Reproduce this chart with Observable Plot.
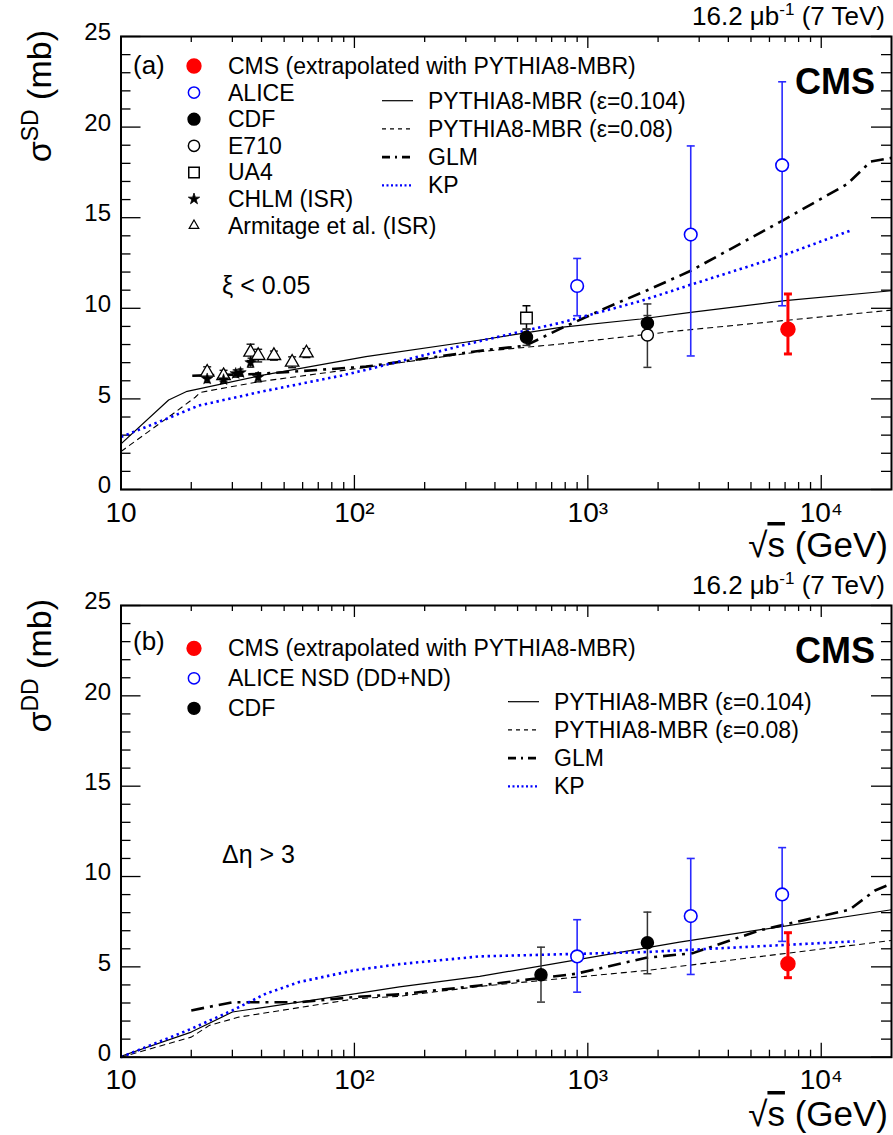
<!DOCTYPE html>
<html><head><meta charset="utf-8">
<script src="https://cdn.jsdelivr.net/npm/d3@7"></script>
<script src="https://cdn.jsdelivr.net/npm/@observablehq/plot@0.6"></script>
<style>
body{margin:0;background:#fff;}
#chart{width:893px;}
#chart svg{display:block;}
</style></head><body><div id="chart"></div>
<script>
// ---------------- DATA ----------------
// axes
const xMajor = [10, 100, 1000, 10000];
const xMinor = [20,30,40,50,60,70,80,90,200,300,400,500,600,700,800,900,2000,3000,4000,5000,6000,7000,8000,9000];
const xTickLabels = ["10", "10²", "10³", "10⁴"];
const yMajor = [0, 5, 10, 15, 20, 25];
const yMinor = [1,2,3,4,6,7,8,9,11,12,13,14,16,17,18,19,21,22,23,24];

// ---- panel (a): single diffraction, xi < 0.05 ----
const mbr104SD_s = [10, 16, 19.2, 40, 112, 347, 764, 1683, 2760, 7000, 20000];
const mbr104SD_v = [2.52, 4.94, 5.42, 6.3, 7.33, 8.25, 8.95, 9.41, 9.77, 10.42, 10.97];
const mbr08SD_s = [10, 16, 20.8, 21.9, 39, 112, 347, 764, 2500, 20000];
const mbr08SD_v = [2.1, 4.0, 5.09, 5.36, 5.95, 6.74, 7.61, 8.03, 8.77, 9.9];
const glmSD_s = [20.2, 39, 112, 347, 541, 764, 1210, 1800, 2760, 6800, 12900, 16300, 20000];
const glmSD_v = [6.28, 6.38, 6.78, 7.66, 7.94, 8.88, 10.05, 11.0, 12.07, 14.83, 16.85, 18.1, 18.3];
const kpSD_s = [10, 16.3, 21.5, 40, 87.5, 112, 347, 541, 764, 1683, 2760, 6800, 13600];
const kpSD_v = [2.9, 3.99, 4.63, 5.4, 6.28, 6.6, 8.2, 8.77, 9.2, 10.4, 11.3, 12.9, 14.33];

const cmsSD_s = [7200], cmsSD_v = [8.84], cmsSD_lo = [7.48], cmsSD_hi = [10.79];
const aliceSD_s = [900, 2760, 6800], aliceSD_v = [11.23, 14.07, 17.9];
const aliceSD_lo = [9.59, 7.37, 10.14], aliceSD_hi = [12.75, 18.96, 22.5];
const cdfSD_s = [546, 1800], cdfSD_v = [8.4, 9.17], cdfSD_lo = [7.95, 8.67], cdfSD_hi = [8.85, 10.24];
const e710SD_s = [1800], e710SD_v = [8.53], e710SD_lo = [6.74], e710SD_hi = [9.6];
const ua4SD_s = [546], ua4SD_v = [9.46], ua4SD_lo = [8.85], ua4SD_hi = [10.14];
const chlmSD_s = [23.4, 27.5, 31, 32.5, 35.9, 38.7];
const chlmSD_v = [6.1, 6.06, 6.4, 6.45, 7.0, 6.19];
const chlmSD_e = [0.2, 0.2, 0.2, 0.2, 0.25, 0.25];
const armSD_s = [23.4, 27.5, 35.9, 38.7, 45.2, 54.1, 62.3];
const armSD_v = [6.47, 6.28, 7.57, 7.39, 7.39, 7.02, 7.53];
const armSD_e = [0.3, 0.3, 0.45, 0.35, 0.25, 0.3, 0.25];

// ---- panel (b): double diffraction, Delta eta > 3 ----
const mbr104DD_s = [10, 20, 30, 101.6, 156, 344, 2470, 20000];
const mbr104DD_v = [0.05, 1.39, 2.5, 3.52, 3.89, 4.47, 6.37, 8.16];
const mbr08DD_s = [10, 20, 23.9, 32, 101.6, 156, 344, 1780, 20000];
const mbr08DD_v = [0, 1.11, 1.76, 2.22, 3.24, 3.37, 3.92, 4.8, 6.46];
const glmDD_s = [20, 30, 58, 100, 156, 344, 890, 1780, 2820, 5450, 13200, 17000, 20000];
const glmDD_v = [2.59, 3.04, 3.04, 3.33, 3.48, 3.97, 4.62, 5.5, 5.76, 7.02, 8.16, 9.23, 9.6];
const kpDD_s = [10, 20, 30, 41.8, 58, 100, 156, 344, 1780, 13900];
const kpDD_v = [0, 1.57, 2.59, 3.52, 4.16, 4.81, 5.15, 5.58, 5.82, 6.41];

const cmsDD_s = [7200], cmsDD_v = [5.17], cmsDD_lo = [4.4], cmsDD_hi = [6.89];
const aliceDD_s = [900, 2760, 6800], aliceDD_v = [5.58, 7.81, 9.01];
const aliceDD_lo = [3.6, 4.58, 6.41], aliceDD_hi = [7.61, 11.0, 11.6];
const cdfDD_s = [630, 1800], cdfDD_v = [4.56, 6.34], cdfDD_lo = [3.05, 4.62], cdfDD_hi = [6.09, 8.03];

// ---------------- helpers ----------------
const FONT = "'Liberation Sans', Arial, Helvetica, sans-serif";
const BLUE = "#0000ff";
const capSym = {draw(ctx, size) { const r = Math.sqrt(size / Math.PI); ctx.moveTo(-r, 0); ctx.lineTo(r, 0); }};
const curve = (s, v) => s.map((x, i) => ({s: x, v: v[i]}));
const pts = (s, v, lo, hi) => s.map((x, i) => ({s: x, v: v[i], lo: lo[i], hi: hi[i]}));
const ptsE = (s, v, e) => s.map((x, i) => ({s: x, v: v[i], lo: v[i] - e[i], hi: v[i] + e[i]}));

const STYLES = {
  solid: {stroke: "black", strokeWidth: 1.2},
  dashed: {stroke: "black", strokeWidth: 1.1, strokeDasharray: "6,4", strokeLinecap: "butt"},
  glm: {stroke: "black", strokeWidth: 2.6, strokeDasharray: "13,6,3,6", strokeLinecap: "butt"},
  kp: {stroke: BLUE, strokeWidth: 2.6, strokeDasharray: "2.4,3.6", strokeLinecap: "butt"}
};

function errMarks(data, color, sw, capR) {
  return [
    Plot.ruleX(data, {x: "s", y1: "lo", y2: "hi", stroke: color, strokeWidth: sw}),
    Plot.dot(data, {x: "s", y: "lo", symbol: capSym, r: capR, stroke: color, strokeWidth: sw, fill: "none"}),
    Plot.dot(data, {x: "s", y: "hi", symbol: capSym, r: capR, stroke: color, strokeWidth: sw, fill: "none"})
  ];
}

function panel(cfg) {
  const W = 893, H = cfg.height, mL = 120.5, mR = 2, mT = 36, mB = cfg.mB;
  const fw = W - mL - mR, fh = H - mT - mB;
  const marks = [
    Plot.tickY(yMajor, {y: d => d, insetRight: fw - 20, stroke: "black", strokeWidth: 1.3}),
    Plot.tickY(yMajor, {y: d => d, insetLeft: fw - 20, stroke: "black", strokeWidth: 1.3}),
    Plot.tickY(yMinor, {y: d => d, insetRight: fw - 10, stroke: "black", strokeWidth: 1.3}),
    Plot.tickY(yMinor, {y: d => d, insetLeft: fw - 10, stroke: "black", strokeWidth: 1.3}),
    Plot.tickX(xMajor, {x: d => d, insetTop: fh - 14, stroke: "black", strokeWidth: 1.3}),
    Plot.tickX(xMajor, {x: d => d, insetBottom: fh - 12, stroke: "black", strokeWidth: 1.3}),
    Plot.tickX(xMinor, {x: d => d, insetTop: fh - 7, stroke: "black", strokeWidth: 1.3}),
    Plot.tickX(xMinor, {x: d => d, insetBottom: fh - 6, stroke: "black", strokeWidth: 1.3}),
    Plot.text(yMajor, {y: d => d, frameAnchor: "left", dx: -10, dy: -4, textAnchor: "end", fontSize: 24, text: d => String(d), fill: "black"}),
    Plot.text(xMajor, {x: d => d, frameAnchor: "bottom", dy: 32, fontSize: 28, text: (d, i) => xTickLabels[i], fill: "black"}),
    ...cfg.curves.map(c => Plot.line(c.data, {x: "s", y: "v", ...STYLES[c.style]})),
    ...cfg.points,
    Plot.frame({stroke: "black", strokeWidth: 2})
  ];
  const svg = Plot.plot({
    width: W, height: H, marginLeft: mL, marginRight: mR, marginTop: mT, marginBottom: mB,
    x: {type: "log", domain: [10, 20000], axis: null},
    y: {domain: [0, 25], axis: null},
    style: {fontFamily: FONT, background: "white", overflow: "visible", color: "black"},
    marks
  });
  const g = d3.select(svg).append("g").attr("font-family", FONT).attr("fill", "black").attr("text-anchor", "start");
  const lum = g.append("text").attr("x", 885).attr("y", 25).attr("text-anchor", "end").attr("font-size", 26);
  lum.append("tspan").text("16.2 μb");
  lum.append("tspan").attr("font-size", 17).attr("dy", -10).text("-1");
  lum.append("tspan").attr("dy", 10).text(" (7 TeV)");
  g.append("text").attr("x", 875).attr("y", 94).attr("text-anchor", "end").attr("font-size", 36)
    .attr("font-weight", "bold").text("CMS");
  g.append("text").attr("x", 133).attr("y", cfg.tagY).attr("font-size", 26).text(cfg.tag);
  const yl = g.append("text").attr("transform", "translate(51,30) rotate(-90)").attr("text-anchor", "end").attr("font-size", 34);
  yl.append("tspan").text("σ");
  yl.append("tspan").attr("font-size", 23).attr("dy", -13).text(cfg.ysup);
  yl.append("tspan").attr("dy", 13).text(" (mb)");
  const xl = g.append("text").attr("x", 888).attr("y", 557).attr("text-anchor", "end").attr("font-size", 35);
  xl.append("tspan").text("√");
  xl.append("tspan").attr("text-decoration", "overline").text("s");
  xl.append("tspan").text(" (GeV)");
  g.append("text").attr("x", 222).attr("y", 294).attr("font-size", 25).text(cfg.cut);
  cfg.legendL.forEach((e, i) => {
    const y = cfg.legLY + i * cfg.legLdy;
    const sym = d3.symbol().type(e.sym).size(e.size);
    g.append("path").attr("d", sym()).attr("transform", `translate(194,${y})`)
      .attr("fill", e.fill).attr("stroke", e.stroke).attr("stroke-width", e.sw || 1.5);
    g.append("text").attr("x", 228).attr("y", y).attr("dy", "0.35em").attr("font-size", 23).text(e.label);
  });
  cfg.legendR.forEach((e, i) => {
    const y = cfg.legRY + i * 28.2;
    const st = e.leg;
    g.append("line").attr("x1", cfg.legRX).attr("x2", cfg.legRX + 31).attr("y1", y).attr("y2", y)
      .attr("stroke", st.stroke).attr("stroke-width", st.sw).attr("stroke-dasharray", st.dash || null);
    g.append("text").attr("x", cfg.legRX + 46).attr("y", y).attr("dy", "0.35em").attr("font-size", 23).text(e.label);
  });
  return svg;
}

const legendLines = [
  {label: "PYTHIA8-MBR (ε=0.104)", leg: {stroke: "black", sw: 1.2}},
  {label: "PYTHIA8-MBR (ε=0.08)", leg: {stroke: "black", sw: 1.1, dash: "4,4"}},
  {label: "GLM", leg: {stroke: "black", sw: 2.6, dash: "8,5,2,5"}},
  {label: "KP", leg: {stroke: BLUE, sw: 2.2, dash: "2,2.5"}}
];

const panelA = panel({
  height: 569, mB: 80, tag: "(a)", tagY: 74, ysup: "SD", cut: "ξ < 0.05",
  curves: [
    {data: curve(mbr104SD_s, mbr104SD_v), style: "solid"},
    {data: curve(mbr08SD_s, mbr08SD_v), style: "dashed"},
    {data: curve(glmSD_s, glmSD_v), style: "glm"},
    {data: curve(kpSD_s, kpSD_v), style: "kp"}
  ],
  points: [
    ...errMarks(ptsE(armSD_s, armSD_v, armSD_e), "black", 1.3, 4),
    ...errMarks(ptsE(chlmSD_s, chlmSD_v, chlmSD_e), "black", 1.3, 3),
    Plot.dot(ptsE(armSD_s, armSD_v, armSD_e), {x: "s", y: "v", symbol: "triangle", r: 5, stroke: "black", fill: "white", strokeWidth: 1.3}),
    Plot.dot(ptsE(chlmSD_s, chlmSD_v, chlmSD_e), {x: "s", y: "v", symbol: "star", r: 3.6, fill: "black", stroke: "black", strokeWidth: 0.6}),
    ...errMarks(pts(ua4SD_s, ua4SD_v, ua4SD_lo, ua4SD_hi), "black", 1.5, 4),
    ...errMarks(pts(e710SD_s, e710SD_v, e710SD_lo, e710SD_hi), "#333", 1.5, 4),
    ...errMarks(pts(cdfSD_s, cdfSD_v, cdfSD_lo, cdfSD_hi), "#333", 1.5, 4),
    ...errMarks(pts(aliceSD_s, aliceSD_v, aliceSD_lo, aliceSD_hi), "#2a2aff", 1.6, 4),
    Plot.dot(pts(ua4SD_s, ua4SD_v, ua4SD_lo, ua4SD_hi), {x: "s", y: "v", symbol: "square", r: 6.5, stroke: "black", fill: "white", strokeWidth: 1.4}),
    Plot.dot(pts(e710SD_s, e710SD_v, e710SD_lo, e710SD_hi), {x: "s", y: "v", symbol: "circle", r: 6, stroke: "black", fill: "white", strokeWidth: 1.4}),
    Plot.dot(pts(cdfSD_s, cdfSD_v, cdfSD_lo, cdfSD_hi), {x: "s", y: "v", symbol: "circle", r: 6, fill: "black", stroke: "black"}),
    Plot.dot(pts(aliceSD_s, aliceSD_v, aliceSD_lo, aliceSD_hi), {x: "s", y: "v", symbol: "circle", r: 6.3, stroke: BLUE, fill: "white", strokeWidth: 1.6}),
    ...errMarks(pts(cmsSD_s, cmsSD_v, cmsSD_lo, cmsSD_hi), "red", 3, 4),
    Plot.dot(pts(cmsSD_s, cmsSD_v, cmsSD_lo, cmsSD_hi), {x: "s", y: "v", symbol: "circle", r: 7, fill: "red", stroke: "red"})
  ],
  legLY: 66, legLdy: 26.6,
  legendL: [
    {label: "CMS (extrapolated with PYTHIA8-MBR)", sym: d3.symbolCircle, size: 150, fill: "red", stroke: "red"},
    {label: "ALICE", sym: d3.symbolCircle, size: 100, fill: "none", stroke: BLUE},
    {label: "CDF", sym: d3.symbolCircle, size: 110, fill: "black", stroke: "black"},
    {label: "E710", sym: d3.symbolCircle, size: 100, fill: "none", stroke: "black"},
    {label: "UA4", sym: d3.symbolSquare, size: 110, fill: "none", stroke: "black"},
    {label: "CHLM (ISR)", sym: d3.symbolStar, size: 40, fill: "black", stroke: "black", sw: 0.8},
    {label: "Armitage et al. (ISR)", sym: d3.symbolTriangle, size: 40, fill: "none", stroke: "black", sw: 1.2}
  ],
  legRX: 382, legRY: 100.7, legendR: legendLines
});

const panelB = panel({
  height: 566, mB: 78.3, tag: "(b)", tagY: 81, ysup: "DD", cut: "Δη > 3",
  curves: [
    {data: curve(mbr104DD_s, mbr104DD_v), style: "solid"},
    {data: curve(mbr08DD_s, mbr08DD_v), style: "dashed"},
    {data: curve(glmDD_s, glmDD_v), style: "glm"},
    {data: curve(kpDD_s, kpDD_v), style: "kp"}
  ],
  points: [
    ...errMarks(pts(cdfDD_s, cdfDD_v, cdfDD_lo, cdfDD_hi), "#333", 1.5, 4),
    ...errMarks(pts(aliceDD_s, aliceDD_v, aliceDD_lo, aliceDD_hi), "#2a2aff", 1.6, 4),
    Plot.dot(pts(cdfDD_s, cdfDD_v, cdfDD_lo, cdfDD_hi), {x: "s", y: "v", symbol: "circle", r: 6, fill: "black", stroke: "black"}),
    Plot.dot(pts(aliceDD_s, aliceDD_v, aliceDD_lo, aliceDD_hi), {x: "s", y: "v", symbol: "circle", r: 6.3, stroke: BLUE, fill: "white", strokeWidth: 1.6}),
    ...errMarks(pts(cmsDD_s, cmsDD_v, cmsDD_lo, cmsDD_hi), "red", 3, 4),
    Plot.dot(pts(cmsDD_s, cmsDD_v, cmsDD_lo, cmsDD_hi), {x: "s", y: "v", symbol: "circle", r: 7, fill: "red", stroke: "red"})
  ],
  legLY: 79.3, legLdy: 30,
  legendL: [
    {label: "CMS (extrapolated with PYTHIA8-MBR)", sym: d3.symbolCircle, size: 150, fill: "red", stroke: "red"},
    {label: "ALICE NSD (DD+ND)", sym: d3.symbolCircle, size: 100, fill: "none", stroke: BLUE},
    {label: "CDF", sym: d3.symbolCircle, size: 110, fill: "black", stroke: "black"}
  ],
  legRX: 508, legRY: 132.7, legendR: legendLines
});

document.getElementById("chart").append(panelA, panelB);
</script>
</body></html>
